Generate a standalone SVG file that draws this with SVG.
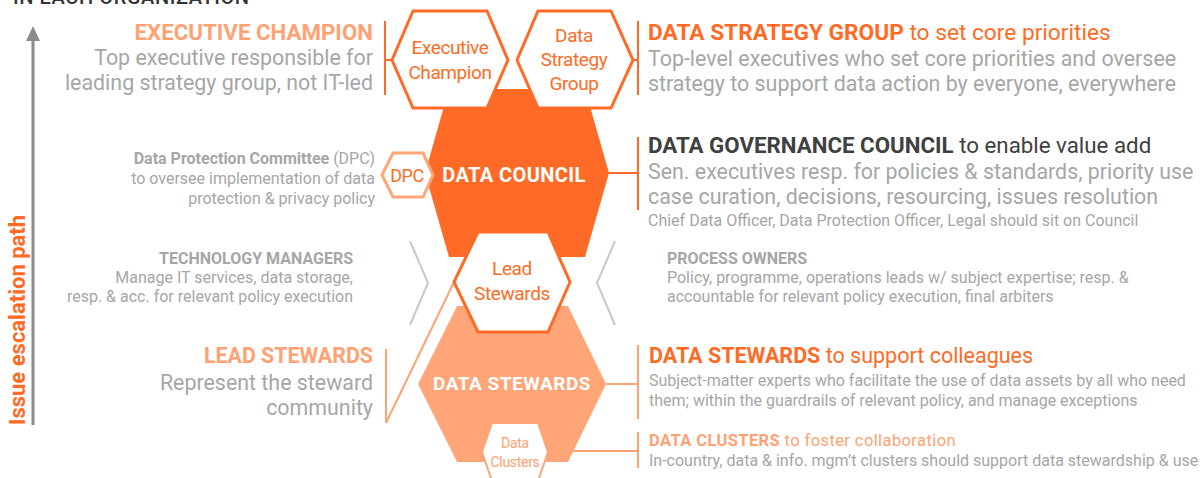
<svg xmlns="http://www.w3.org/2000/svg" width="1200" height="478" viewBox="0 0 1200 478">
<style>
text{font-family:Roboto,"Liberation Sans",sans-serif}
.o{fill:#FF6B26}.lo{fill:#FFA273}.g{fill:#A6A6A6}.d{fill:#404040}.w{fill:#fff}
.b{font-weight:700}
.big{font-size:21.4px}.hd{font-size:22.3px}.sm{font-size:16px}
.r{text-anchor:end}.c{text-anchor:middle}
.hx{font-size:19px;letter-spacing:-0.4px}
.ln{fill:none;stroke-width:2}
</style>
<rect width="1200" height="478" fill="#fff"/>
<text x="13" y="4" font-size="20" font-weight="500" fill="#333" letter-spacing="0.6">IN EACH ORGANIZATION</text>

<g id="axis">
<line x1="33" y1="425" x2="33" y2="40" stroke="#8C8C8C" stroke-width="3"/>
<path d="M33,26 L40,41 L26,41 Z" fill="#8C8C8C"/>
<text transform="translate(25,425) rotate(-90)" class="o b" font-size="22">Issue escalation path</text>
</g>

<g id="connectors">
<path class="ln" stroke="#FF6B26" d="M385,21 V95 M385,60 H392"/>
<path class="ln" stroke="#FF6B26" d="M638,21 V95 M633,60 H638"/>
<path class="ln" stroke="#FF6B26" d="M609,173 H638 M638,137 V210"/>
<path class="ln" stroke="#FFA273" d="M606,384 H638 M638,345 V419"/>
<path class="ln" stroke="#FFA273" d="M548,451 H638 M638,432 V468"/>
<path class="ln" stroke="#FFA273" d="M454,282 L386,423 M386,349 V423"/>
<path class="ln" stroke="#C8C8C8" d="M410,241 L428,283 L410,325"/>
<path class="ln" stroke="#C8C8C8" d="M615,241 L597,283 L615,325"/>
</g>

<g id="data-stewards">
<polygon points="418,384 457,306 568,306 606,384 568,462 457,462" fill="#FFA577"/>
<text x="512" y="390" class="w b c" font-size="19" letter-spacing="0.5">DATA STEWARDS</text>
</g>

<g id="data-council">
<polygon points="425,173 449,89 585,89 609,173 585,257 449,257" fill="#FF6B26"/>
<text x="514" y="182" class="w b c" font-size="20" letter-spacing="0.4">DATA COUNCIL</text>
</g>

<g id="dpc">
<polygon points="382,175 393,153 423,153 433,175 423,197 393,197" fill="#fff" stroke="#FFA577" stroke-width="3"/>
<text x="407" y="182" class="o c" font-size="18" letter-spacing="-0.5">DPC</text>
</g>

<g id="executive-champion">
<polygon points="392,60 413,11 487,11 508,60 487,108 413,108" fill="#fff" stroke="#FF6B26" stroke-width="3"/>
<text x="450" y="54" class="o c hx">Executive</text>
<text x="450" y="79" class="o c hx">Champion</text>
</g>

<g id="data-strategy-group">
<polygon points="517,60 538,11 611,11 633,60 611,108 538,108" fill="#fff" stroke="#FF6B26" stroke-width="3"/>
<text x="574" y="42" class="o c hx">Data</text>
<text x="574" y="66" class="o c hx">Strategy</text>
<text x="574" y="90" class="o c hx">Group</text>
</g>

<g id="lead-stewards">
<polygon points="454,282 478,232 548,232 570,282 548,332 478,332" fill="#fff" stroke="#FF6B26" stroke-width="3"/>
<text x="512" y="275" class="o c hx">Lead</text>
<text x="512" y="300" class="o c hx">Stewards</text>
</g>

<g id="data-clusters">
<polygon points="482,452 492,423 538,423 548,452 538,481 492,481" fill="#fff" stroke="#FFA577" stroke-width="2"/>
<text x="515" y="448" class="lo c" font-size="14" letter-spacing="-0.3">Data</text>
<text x="515" y="467" class="lo c" font-size="14" letter-spacing="-0.3">Clusters</text>
</g>

<g id="text-executive-champion">
<text x="373" y="40" class="lo b hd r">EXECUTIVE CHAMPION</text>
<text x="373" y="65" class="g big r">Top executive responsible for</text>
<text x="373" y="90" class="g big r">leading strategy group, not IT-led</text>
</g>

<g id="text-data-strategy-group">
<text x="648" y="40" class="o" font-size="22.7"><tspan class="b">DATA STRATEGY GROUP</tspan> to set core priorities</text>
<text x="648" y="66" class="g big">Top-level executives who set core priorities and oversee</text>
<text x="648" y="91" class="g big">strategy to support data action by everyone, everywhere</text>
</g>

<g id="text-dpc">
<text x="375" y="164" class="g sm r"><tspan class="b">Data Protection Committee</tspan> (DPC)</text>
<text x="375" y="184" class="g sm r">to oversee implementation of data</text>
<text x="375" y="204" class="g sm r">protection &amp; privacy policy</text>
</g>

<g id="text-data-council">
<text x="648" y="153" class="d hd"><tspan class="b">DATA GOVERNANCE COUNCIL</tspan> to enable value add</text>
<text x="648" y="179" class="g big">Sen. executives resp. for policies &amp; standards, priority use</text>
<text x="648" y="204" class="g big">case curation, decisions, resourcing, issues resolution</text>
<text x="648" y="226" class="g sm">Chief Data Officer, Data Protection Officer, Legal should sit on Council</text>
</g>

<g id="text-technology-managers">
<text x="353" y="264" class="g sm b r">TECHNOLOGY MANAGERS</text>
<text x="353" y="283" class="g sm r">Manage IT services, data storage,</text>
<text x="353" y="302" class="g sm r">resp. &amp; acc. for relevant policy execution</text>
</g>

<g id="text-process-owners">
<text x="667" y="264" class="g sm b">PROCESS OWNERS</text>
<text x="667" y="283" class="g sm">Policy, programme, operations leads w/ subject expertise; resp. &amp;</text>
<text x="667" y="302" class="g sm">accountable for relevant policy execution, final arbiters</text>
</g>

<g id="text-lead-stewards">
<text x="373" y="363" class="lo b r" font-size="21.4">LEAD STEWARDS</text>
<text x="373" y="390" class="g big r">Represent the steward</text>
<text x="373" y="415" class="g big r">community</text>
</g>

<g id="text-data-stewards">
<text x="649" y="363" class="o" font-size="21.5"><tspan class="b">DATA STEWARDS</tspan> to support colleagues</text>
<text x="649" y="386" class="g sm">Subject-matter experts who facilitate the use of data assets by all who need</text>
<text x="649" y="406" class="g sm">them; within the guardrails of relevant policy, and manage exceptions</text>
</g>

<g id="text-data-clusters">
<text x="649" y="446" class="lo" font-size="16.5" letter-spacing="0.4"><tspan class="b">DATA CLUSTERS</tspan> to foster collaboration</text>
<text x="649" y="466" class="g sm">In-country, data &amp; info. mgm’t clusters should support data stewardship &amp; use</text>
</g>
</svg>
